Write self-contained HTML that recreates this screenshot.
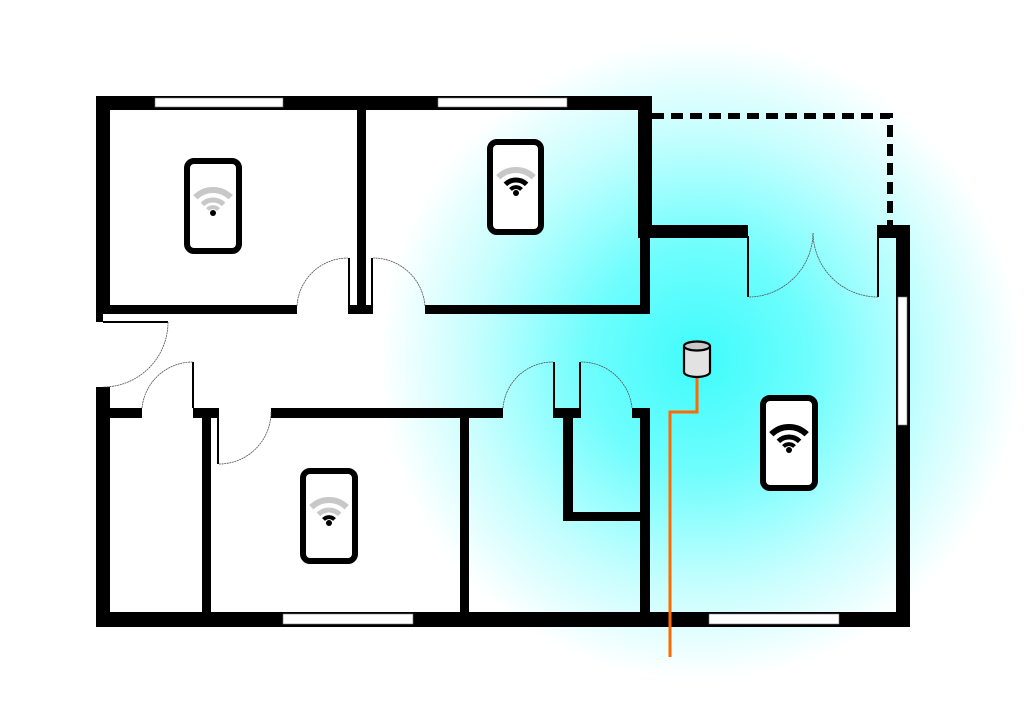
<!DOCTYPE html>
<html><head><meta charset="utf-8"><style>
html,body{margin:0;padding:0;background:#fff;}
svg{display:block;}
</style></head><body>
<svg width="1024" height="722" viewBox="0 0 1024 722" xmlns="http://www.w3.org/2000/svg">
<defs>
<radialGradient id="g" cx="700" cy="360" r="320" gradientUnits="userSpaceOnUse" gradientTransform="translate(700 360) scale(1 1) translate(-700 -360)">
<stop offset="0" stop-color="#3ffcfc"/>
<stop offset="0.35" stop-color="#6ffdfd"/>
<stop offset="0.7" stop-color="#c4fefe"/>
<stop offset="1" stop-color="#ffffff"/>
</radialGradient>
</defs>
<rect width="1024" height="722" fill="#fff"/>
<rect width="1024" height="722" fill="url(#g)"/>

<g fill="#000">
<!-- outer top wall -->
<rect x="96" y="96" width="556" height="14"/>
<!-- left wall upper -->
<rect x="96" y="96" width="14" height="218"/>
<rect x="96" y="313" width="7" height="9"/>
<!-- left wall lower -->
<rect x="96" y="387" width="14" height="240"/>
<!-- bottom wall -->
<rect x="96" y="612" width="814" height="15"/>
<!-- top-right room right wall -->
<rect x="638" y="96" width="14" height="142"/>
<rect x="640" y="238" width="10" height="76"/>
<!-- horizontal wall to door -->
<rect x="652" y="225" width="96" height="13"/>
<!-- right column -->
<rect x="877" y="225" width="33" height="13"/>
<rect x="896" y="225" width="14" height="402"/>
<!-- vertical divider top rooms -->
<rect x="357" y="110" width="9" height="204"/>
<!-- top rooms bottom wall -->
<rect x="110" y="305" width="187" height="9"/>
<rect x="348" y="305" width="25" height="9"/>
<rect x="425" y="305" width="225" height="9"/>
<!-- door leaves top -->
<rect x="348" y="258" width="2" height="48"/>
<rect x="371" y="258" width="2" height="48"/>
<!-- hall wall -->
<rect x="110" y="408" width="32" height="10"/>
<rect x="193" y="408" width="26" height="10"/>
<rect x="271" y="408" width="232" height="10"/>
<rect x="553" y="408" width="28" height="10"/>
<rect x="632" y="408" width="18" height="10"/>
<!-- leaves -->
<rect x="192" y="362" width="2" height="46"/>
<rect x="217" y="418" width="2" height="46"/>
<rect x="553" y="362" width="2" height="46"/>
<rect x="579" y="362" width="2" height="46"/>
<rect x="103" y="321" width="65" height="2"/>
<rect x="747" y="236" width="2" height="61"/>
<rect x="877" y="236" width="2" height="61"/>
<!-- inner verticals -->
<rect x="202" y="418" width="9" height="195"/>
<rect x="460" y="418" width="9" height="195"/>
<rect x="640" y="418" width="10" height="195"/>
<rect x="563" y="418" width="10" height="103"/>
<rect x="563" y="512" width="77" height="9"/>
</g>
<!-- windows -->
<g fill="#fff" stroke="#777" stroke-width="0.6">
<rect x="155" y="98" width="128" height="9"/>
<rect x="438" y="98" width="129" height="9"/>
<rect x="283" y="614" width="130" height="10"/>
<rect x="709" y="614" width="130" height="10"/>
<rect x="898" y="297" width="9" height="128"/>
</g>
<!-- dashed wall -->
<path d="M652 116 H890 V225" fill="none" stroke="#000" stroke-width="6" stroke-dasharray="12 7"/>
<!-- door arcs -->
<g fill="none" stroke="#555" stroke-width="0.8" stroke-dasharray="2 0.6">
<path d="M297 306 A51 51 0 0 1 348 258"/>
<path d="M373 258 A52 52 0 0 1 425 306"/>
<path d="M168 322 A65 65 0 0 1 103 387"/>
<path d="M142 408 A51 51 0 0 1 193 362"/>
<path d="M219 464 A52 52 0 0 0 271 412"/>
<path d="M503 408 A50 50 0 0 1 553 362"/>
<path d="M581 362 A51 51 0 0 1 632 408"/>
<path d="M749 297 A65 65 0 0 0 813 233"/>
<path d="M878 297 A65 65 0 0 1 813 233"/>
</g>
<!-- orange cable -->
<path d="M697 377 V412 H670 V657" fill="none" stroke="#ff6a00" stroke-width="3"/>
<!-- router -->
<g stroke="#000" stroke-width="2.2">
<path d="M684 346 V372 A13 5 0 0 0 710 372 V346" fill="#e2e2e2"/>
<ellipse cx="697" cy="346" rx="13" ry="4.5" fill="#c8c8c8"/>
</g>
<!-- phones -->
<g fill="#fff" stroke="#000" stroke-width="6">
<rect x="187" y="161" width="52" height="90" rx="7"/>
<rect x="490" y="142" width="51" height="90" rx="7"/>
<rect x="303" y="471" width="52" height="90" rx="7"/>
<rect x="763" y="398" width="52" height="90" rx="7"/>
</g>
<!-- wifi icons: arcs centered at (cx, cy) -->
<g fill="none" stroke-linecap="butt">
<!-- phone1 -->
<path d="M195.3 197.3 A25 25 0 0 1 230.7 197.3" stroke="#c8c8c8" stroke-width="6"/>
<path d="M202.4 204.4 A15 15 0 0 1 223.6 204.4" stroke="#c8c8c8" stroke-width="5"/>
<path d="M207.5 209.5 A7.5 7.5 0 0 1 218.5 209.5" stroke="#c8c8c8" stroke-width="4"/>
<!-- phone2 -->
<path d="M498.3 177.3 A25 25 0 0 1 533.7 177.3" stroke="#c8c8c8" stroke-width="6"/>
<path d="M505.4 184.4 A15 15 0 0 1 526.6 184.4" stroke="#000" stroke-width="5"/>
<path d="M510.5 189.5 A7.5 7.5 0 0 1 521.5 189.5" stroke="#000" stroke-width="4"/>
<!-- phone3 -->
<path d="M311.3 507.3 A25 25 0 0 1 346.7 507.3" stroke="#c8c8c8" stroke-width="6"/>
<path d="M318.4 514.4 A15 15 0 0 1 339.6 514.4" stroke="#c8c8c8" stroke-width="5"/>
<path d="M323.5 519.5 A7.5 7.5 0 0 1 334.5 519.5" stroke="#000" stroke-width="4"/>
<!-- phone4 -->
<path d="M771.3 434.3 A25 25 0 0 1 806.7 434.3" stroke="#000" stroke-width="6"/>
<path d="M778.4 441.4 A15 15 0 0 1 799.6 441.4" stroke="#000" stroke-width="5"/>
<path d="M783.5 446.5 A7.5 7.5 0 0 1 794.5 446.5" stroke="#000" stroke-width="4"/>
</g>
<g fill="#000">
<circle cx="213" cy="213" r="3"/>
<circle cx="516" cy="193" r="3"/>
<circle cx="329" cy="523" r="3"/>
<circle cx="789" cy="450" r="3"/>
</g>
</svg>
</body></html>
